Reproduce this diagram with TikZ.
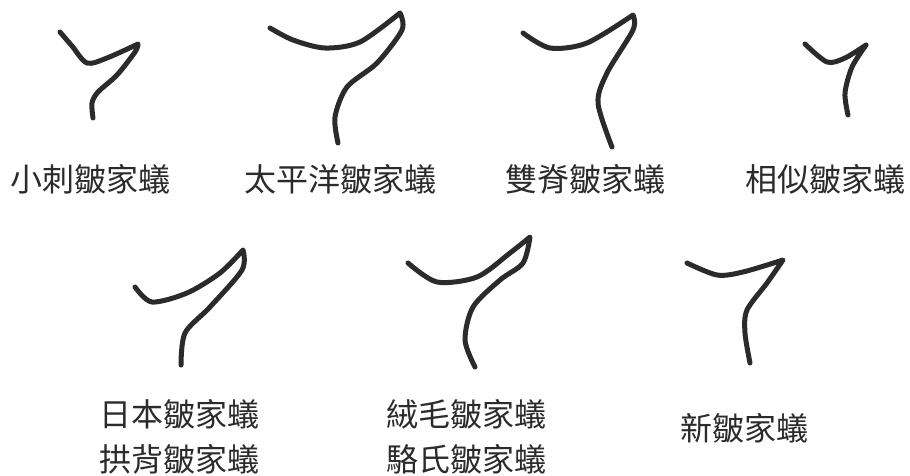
\documentclass[tikz,border=0pt]{standalone}
\usepackage{fontspec}
\newfontfamily\cjk{Noto Sans CJK TC}
\definecolor{ink}{HTML}{2B2B2B}
\tikzset{
  outline/.style={draw=ink, line width=5pt, line cap=round, line join=round},
  antname/.style={font=\cjk\fontsize{32}{45}\selectfont, text=ink, align=center, inner sep=0pt}
}
\begin{document}
\begin{tikzpicture}[x=1pt,y=-1pt]
    \useasboundingbox (0,0) rectangle (910,476);
    % first row
    \draw [outline] plot [smooth] coordinates {(60,32) (72,46) (87,63) (107,58) (138,44)}
                 -- plot [smooth] coordinates {(138,44) (135,52) (117,75) (98,92) (92,103) (93,118)};
    \draw [outline] plot [smooth] coordinates {(270,28) (293,40) (325,48) (360,42) (400,13)}
                 -- plot [smooth] coordinates {(400,13) (402,30) (377,63) (347,87) (335,117) (338,143)};
    \draw [outline] plot [smooth] coordinates {(523,33) (550,48) (587,43) (633,15)}
                 -- plot [smooth] coordinates {(633,15) (633,30) (607,73) (598,103) (612,147)};
    \draw [outline] plot [smooth] coordinates {(805,44) (827,62) (845,58) (866,45)}
                 -- plot [smooth] coordinates {(866,45) (852,67) (845,93) (848,115)};
    \node [antname] (small) at (90,179) {小刺皺家蟻};
    \node [antname] (pacific) at (340,179) {太平洋皺家蟻};
    \node [antname] (ridged) at (585,179) {雙脊皺家蟻};
    \node [antname] (similar) at (825,179) {相似皺家蟻};
    % second row
    \draw [outline] plot [smooth] coordinates {(135,287) (152,302) (187,293) (220,273) (243,250)}
                 -- plot [smooth] coordinates {(243,250) (242,270) (210,307) (185,333) (181,365)};
    \draw [outline] plot [smooth] coordinates {(408,263) (437,282) (477,277) (510,253) (530,237)}
                 -- plot [smooth] coordinates {(530,237) (523,263) (500,280) (473,307) (465,340) (475,367)};
    \draw [outline] plot [smooth] coordinates {(687,263) (717,275) (743,272) (783,260)}
                 -- plot [smooth] coordinates {(783,260) (767,283) (747,310) (745,333) (750,363)};
    \node [antname] (japan) at (179,437) {日本皺家蟻\\拱背皺家蟻};
    \node [antname] (hairy) at (466,437) {絨毛皺家蟻\\駱氏皺家蟻};
    \node [antname] (new) at (744,428) {新皺家蟻};
\end{tikzpicture}
\end{document}
